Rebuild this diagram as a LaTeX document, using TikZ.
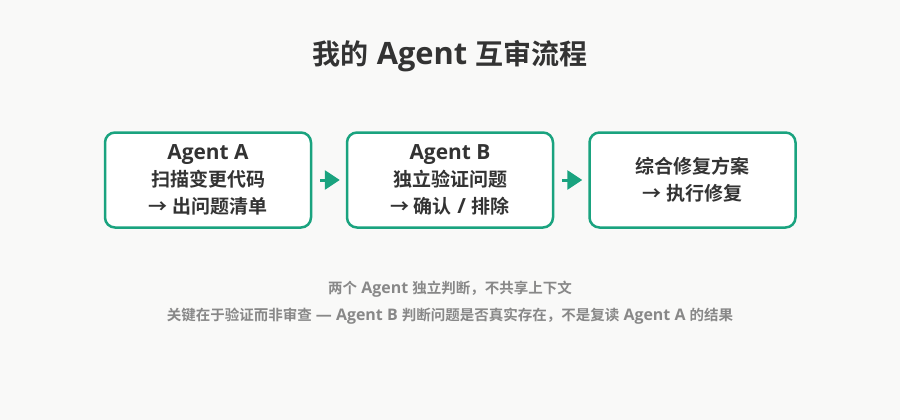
\documentclass[tikz,border=0pt]{standalone}
\usepackage{fontspec}
\setmainfont{Open Sans}[Scale=1.1]
\newfontfamily\cjk{Noto Sans CJK SC}[BoldFont={Noto Sans CJK SC Bold}]
\usetikzlibrary{arrows.meta}
\definecolor{bgc}{RGB}{249,249,248}
\definecolor{teal}{RGB}{26,163,127}
\definecolor{dark}{RGB}{51,51,51}
\definecolor{note}{RGB}{136,136,136}
\tikzset{
  stepbox/.style={draw=teal, line width=2.5pt, fill=white, rounded corners=10pt,
    minimum width=206pt, minimum height=95pt, inner sep=0pt,
    align=center, text=dark, font=\fontsize{19pt}{27pt}\selectfont\bfseries},
  flowarrow/.style={draw=teal, line width=3pt, -{Triangle[length=15pt,width=19pt]}},
  notetext/.style={text=note, font=\fontsize{14.5pt}{18pt}\selectfont\bfseries, inner sep=0pt},
}
\begin{document}
\begin{tikzpicture}[x=1pt,y=-1pt]
\path[fill=bgc] (0,0) rectangle (900,420);
\useasboundingbox (0,0) rectangle (900,420);
\node[text=dark, font=\fontsize{28pt}{32pt}\selectfont\bfseries, inner sep=0pt] (title) at (450,56) {{\cjk 我的} Agent {\cjk 互审流程}};
\node[stepbox] (a) at (208,180) {Agent A\\{\cjk 扫描变更代码}\\{\cjk → 出问题清单}};
\node[stepbox] (b) at (450,180) {Agent B\\{\cjk 独立验证问题}\\{\cjk → 确认} / {\cjk 排除}};
\node[stepbox] (c) at (692.5,180) {{\cjk 综合修复方案}\\{\cjk → 执行修复}};
\draw[flowarrow] ([xshift=8pt]a.east) -- ([xshift=-6pt]b.west);
\draw[flowarrow] ([xshift=8pt]b.east) -- ([xshift=-6pt]c.west);
\node[notetext] (n1) at (450,289) {{\cjk 两个} Agent {\cjk 独立判断，不共享上下文}};
\node[notetext] (n2) at (450,316) {{\cjk 关键在于验证而非审查} — Agent B {\cjk 判断问题是否真实存在，不是复读} Agent A {\cjk 的结果}};
\end{tikzpicture}
\end{document}
